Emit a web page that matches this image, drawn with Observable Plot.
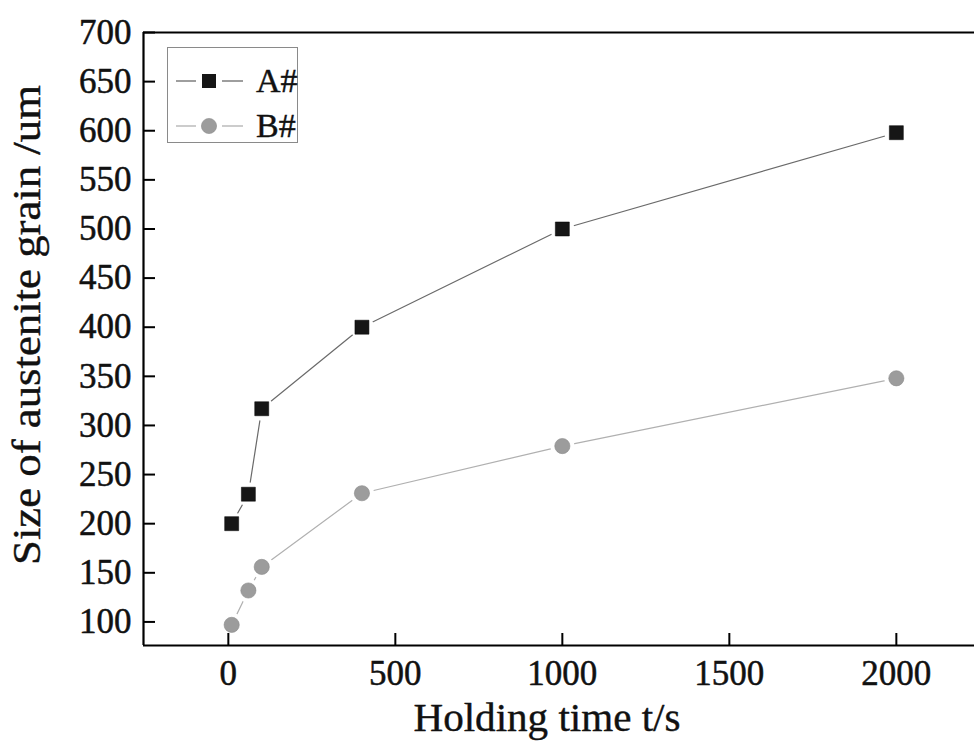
<!DOCTYPE html>
<html>
<head>
<meta charset="utf-8">
<script src="https://cdn.jsdelivr.net/npm/d3@7"></script>
<script src="https://cdn.jsdelivr.net/npm/@observablehq/plot@0.6"></script>
<style>
  html, body { margin: 0; padding: 0; background: #fff; }
  #wrap { position: relative; width: 974px; height: 755px; overflow: hidden; font-family: "Liberation Serif", "Times New Roman", serif; }
  #legend { position: absolute; left: 167px; top: 47px; width: 131px; height: 96px; border: 1px solid #8a8a8a; box-sizing: border-box; background: #fff; }
  .lrow { position: absolute; left: 0; height: 40px; display: flex; align-items: center; }
  .lrow span { font-size: 34px; color: #111; margin-left: 6px; line-height: 1; -webkit-text-stroke: 0.4px #111; }
</style>
</head>
<body>
<div id="wrap"></div>
<script>
// ---- data ----
const holdingTime = [10, 60, 100, 400, 1000, 2000];
const sizeA = [200, 230, 317, 400, 500, 598];
const sizeB = [97, 132, 156, 231, 279, 348];
const seriesNames = ["A#", "B#"];
const xTicks = [0, 500, 1000, 1500, 2000];
const yTicks = [100, 150, 200, 250, 300, 350, 400, 450, 500, 550, 600, 650, 700];
const xTitle = "Holding time t/s";
const yTitle = "Size of austenite grain /um";

const rows = [];
holdingTime.forEach((t, i) => rows.push({t, v: sizeA[i], s: seriesNames[0]}));
holdingTime.forEach((t, i) => rows.push({t, v: sizeB[i], s: seriesNames[1]}));
const rowsA = rows.filter(d => d.s === seriesNames[0]);
const rowsB = rows.filter(d => d.s === seriesNames[1]);

const chart = Plot.plot({
  width: 974,
  height: 755,
  marginLeft: 143,
  marginRight: 0,
  marginTop: 32,
  marginBottom: 110,
  style: { fontFamily: "'Liberation Serif', 'Times New Roman', serif", background: "#fff", color: "#111" },
  x: { domain: [-254, 2234], axis: null },
  y: { domain: [76, 700], axis: null },
  marks: [
    Plot.line(rowsA, { x: "t", y: "v", stroke: "#6a6a6a", strokeWidth: 1.2 }),
    Plot.line(rowsB, { x: "t", y: "v", stroke: "#b0b0b0", strokeWidth: 1.2 }),
    // gaps around symbols
    Plot.dot(rows, { x: "t", y: "v", r: 12, fill: "#fff", stroke: null }),
    Plot.dot(rowsA, { x: "t", y: "v", symbol: "square", r: 7.9, fill: "#161616", stroke: "#000", strokeWidth: 0.5 }),
    Plot.dot(rowsB, { x: "t", y: "v", symbol: "circle", r: 7.6, fill: "#9c9c9c", stroke: "#8a8a8a", strokeWidth: 0.6 }),
    // frame
    Plot.ruleX([-254], { stroke: "#000", strokeWidth: 2.2 }),
    Plot.ruleY([76], { stroke: "#000", strokeWidth: 2.2 }),
    Plot.ruleY([700], { stroke: "#000", strokeWidth: 2.2 }),
    // inward ticks
    Plot.ruleX(xTicks, { x: d => d, insetTop: 601, stroke: "#000", strokeWidth: 2 }),
    Plot.ruleY(yTicks, { y: d => d, insetRight: 819, stroke: "#000", strokeWidth: 2 }),
    // tick labels
    Plot.text(xTicks, { x: d => d, frameAnchor: "bottom", lineAnchor: "top", dy: 15, text: d => String(d), fontSize: 35, fill: "#111", stroke: "#111", strokeWidth: 0.5 }),
    Plot.text(yTicks, { y: d => d, frameAnchor: "left", textAnchor: "end", dx: -12, text: d => String(d), fontSize: 35, fill: "#111", stroke: "#111", strokeWidth: 0.5 }),
    // axis titles
    Plot.text([xTitle], { frameAnchor: "bottom", dx: -12, dy: 85, text: d => d, fontSize: 40, fill: "#111", stroke: "#111", strokeWidth: 0.4 }),
    Plot.text([yTitle], { frameAnchor: "left", rotate: -90, textAnchor: "start", dx: -116, dy: 226, text: d => d, fontSize: 40, fill: "#111", stroke: "#111", strokeWidth: 0.4 })
  ]
});

// stretch titles to the widths seen in the reference
d3.select(chart).selectAll("text").each(function () {
  const t = this.textContent;
  if (t === xTitle) { d3.select(this).attr("textLength", 267).attr("lengthAdjust", "spacingAndGlyphs"); }
  if (t === yTitle) { d3.select(this).attr("textLength", 480).attr("lengthAdjust", "spacingAndGlyphs"); }
});

const wrap = document.getElementById("wrap");
wrap.appendChild(chart);

// legend built from the series names
const legend = document.createElement("div");
legend.id = "legend";
const legendStyles = [
  { line: "#6a6a6a", fill: "#161616", shape: "square" },
  { line: "#b0b0b0", fill: "#9c9c9c", shape: "circle" }
];
seriesNames.forEach((name, i) => {
  const row = document.createElement("div");
  row.className = "lrow";
  row.style.top = (i === 0 ? 13 : 58) + "px";
  const st = legendStyles[i];
  const sym = st.shape === "square"
    ? `<rect x="34" y="13" width="14" height="14" fill="${st.fill}"/>`
    : `<circle cx="41" cy="20" r="7.6" fill="${st.fill}" stroke="#8a8a8a" stroke-width="0.6"/>`;
  row.innerHTML = `<svg width="82" height="40" style="display:block">
      <line x1="8" y1="20" x2="28" y2="20" stroke="${st.line}" stroke-width="1.3"/>
      <line x1="54" y1="20" x2="75" y2="20" stroke="${st.line}" stroke-width="1.3"/>
      ${sym}
    </svg><span>${name}</span>`;
  legend.appendChild(row);
});
wrap.appendChild(legend);
</script>
</body>
</html>
